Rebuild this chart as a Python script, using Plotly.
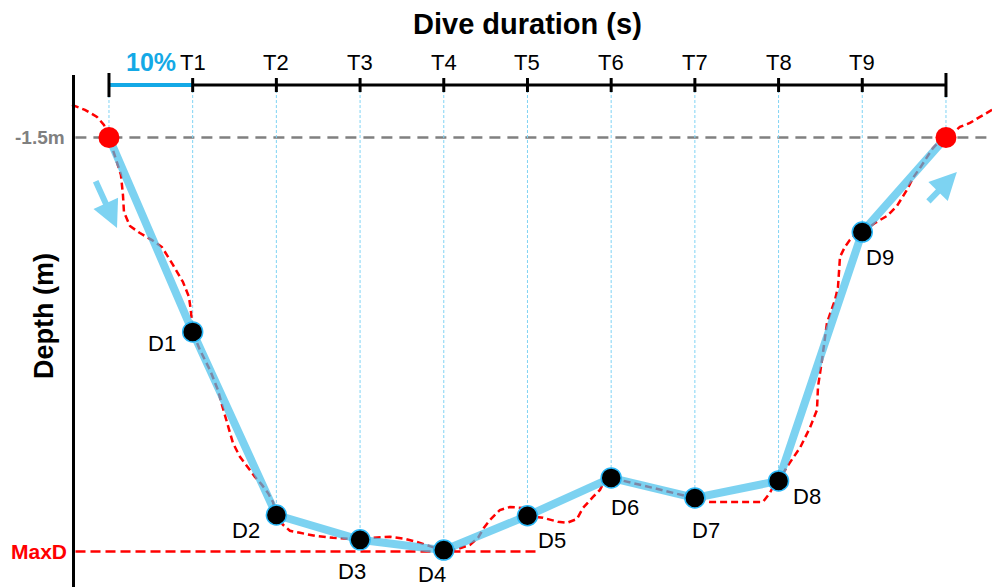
import plotly.graph_objects as go

# ---------------- data ----------------
tick_labels = ["T1", "T2", "T3", "T4", "T5", "T6", "T7", "T8", "T9"]
tick_pos = [10, 20, 30, 40, 50, 60, 70, 80, 90]          # % of dive duration
dive_bounds = [0, 100]                                   # start / end of dive (% duration)
surface_depth = -1.5                                     # m

point_labels = ["D1", "D2", "D3", "D4", "D5", "D6", "D7", "D8", "D9"]
point_x = [10, 20, 30, 40, 50, 60, 70, 80, 90]
point_depth = [-9.25, -16.55, -17.54, -17.95, -16.58, -15.07, -15.87, -15.19, -5.27]

raw_x = [-4.42, -2.87, -1.43, -0.60, 0.0, 0.48, 0.96, 1.43, 1.67, 1.79, 2.51, 3.70, 5.14,
         6.33, 7.65, 8.84, 9.56, 9.80, 10.0, 10.87, 12.07, 13.02, 13.50, 14.22, 14.81,
         15.65, 16.49, 17.44, 18.28, 19.00, 19.59, 20.0, 20.79, 21.62, 22.82, 24.61,
         26.76, 28.79, 31.18, 33.57, 35.36, 37.16, 38.95, 40.0, 41.70, 43.13, 44.09,
         44.80, 45.52, 46.71, 47.91, 49.46, 50.0, 51.85, 53.64, 54.72, 55.91, 56.63,
         57.83, 58.66, 59.26, 60.0, 65.0, 70.0, 71.80, 75.39, 78.14, 78.97, 79.57, 80.0,
         81.00, 82.56, 83.75, 84.59, 84.71, 85.19, 85.54, 85.78, 86.74, 87.10, 87.34,
         87.93, 88.53, 89.37, 90.0, 91.52, 92.95, 94.15, 95.34, 96.06, 96.89, 97.73,
         98.45, 99.28, 100.0, 100.84, 101.67, 102.87, 104.06, 105.50]
raw_depth = [-0.20, -0.40, -0.68, -1.00, -1.50, -2.00, -2.52, -2.99, -3.79, -4.47, -5.03,
             -5.31, -5.59, -5.87, -6.58, -7.26, -7.86, -8.46, -9.25, -9.97, -10.77, -11.57,
             -12.16, -12.96, -13.68, -14.23, -14.63, -15.03, -15.35, -15.67, -16.03, -16.55,
             -16.94, -17.18, -17.26, -17.38, -17.46, -17.50, -17.46, -17.42, -17.50, -17.66,
             -17.86, -18.00, -17.90, -17.74, -17.46, -17.06, -16.75, -16.35, -16.23, -16.27,
             -16.58, -16.66, -16.82, -16.86, -16.71, -16.27, -15.83, -15.55, -15.15, -15.07,
             -15.47, -15.87, -16.03, -16.03, -16.03, -15.67, -15.27, -15.19, -14.63, -13.87,
             -13.07, -12.36, -11.44, -10.37, -9.57, -8.89, -7.98, -7.46, -6.26, -5.86, -5.58,
             -5.31, -5.27, -4.91, -4.63, -4.23, -3.59, -3.11, -2.72, -2.28, -1.92, -1.64,
             -1.50, -1.32, -1.08, -0.92, -0.68, -0.40]

max_depth = min(raw_depth)

# arrows (tail -> head), in data units
arrow_down = dict(tail=(-1.67, -3.19), head=(0.96, -5.11))
arrow_up = dict(tail=(97.73, -4.11), head=(101.3, -2.88))

# ---------------- style ----------------
FONT = "Arial, Liberation Sans, sans-serif"
LINE_BLUE = "rgb(69,192,236)"
ARROW_BLUE = "#7dd3f2"
BRIGHT_BLUE = "#14a9e6"
AXIS_Y = 0.59
label_offsets = [(-31, -12), (-30, -15), (-8, -32), (-12, -24), (25, -25),
                 (14, -30), (11, -33), (28, -16), (18, -25)]

fig = go.Figure()

# raw profile (red dashed)
fig.add_trace(go.Scatter(x=raw_x, y=raw_depth, mode="lines",
                         line=dict(color="#ff0000", width=2.5, dash="7px,4px"),
                         hoverinfo="skip"))

# simplified profile (blue)
line_x = [dive_bounds[0]] + point_x + [dive_bounds[1]]
line_y = [surface_depth] + point_depth + [surface_depth]
fig.add_trace(go.Scatter(x=line_x, y=line_y, mode="lines",
                         line=dict(color=LINE_BLUE, width=8), opacity=0.7,
                         hoverinfo="skip"))

# points
fig.add_trace(go.Scatter(x=point_x, y=point_depth, mode="markers",
                         marker=dict(color="black", size=20,
                                     line=dict(color="#29b6f6", width=1.5))))
fig.add_trace(go.Scatter(x=dive_bounds, y=[surface_depth, surface_depth], mode="markers",
                         marker=dict(color="#ff0000", size=21)))

shapes = []
# dotted verticals from axis to points
for xv, yv in zip(line_x, line_y):
    shapes.append(dict(type="line", xref="x", yref="y", x0=xv, x1=xv, y0=AXIS_Y, y1=yv,
                       line=dict(color="#7fd3f4", width=1, dash="3px,2px"), layer="below"))
# surface line
shapes.append(dict(type="line", xref="paper", yref="y", x0=0.076, x1=1,
                   y0=surface_depth, y1=surface_depth,
                   line=dict(color="#808080", width=2.5, dash="11px,7px"), layer="below"))
# max depth line
shapes.append(dict(type="line", xref="x", yref="y", x0=-4.0, x1=51.5,
                   y0=max_depth, y1=max_depth,
                   line=dict(color="#ff0000", width=2.5, dash="10px,5px"), layer="below"))
# left axis
shapes.append(dict(type="line", xref="paper", yref="paper", x0=0.0741, x1=0.0741,
                   y0=0, y1=1 - 75 / 587, line=dict(color="black", width=3)))
# top axis
shapes.append(dict(type="line", xref="x", yref="y", x0=dive_bounds[0], x1=dive_bounds[1],
                   y0=AXIS_Y, y1=AXIS_Y, line=dict(color="black", width=3)))
shapes.append(dict(type="line", xref="x", yref="y", x0=dive_bounds[0], x1=tick_pos[0],
                   y0=AXIS_Y, y1=AXIS_Y, line=dict(color=BRIGHT_BLUE, width=4)))
for t in tick_pos:
    shapes.append(dict(type="line", xref="x", yref="y", x0=t, x1=t,
                       y0=AXIS_Y - 0.28, y1=AXIS_Y + 0.28, line=dict(color="black", width=3)))
for t in dive_bounds:
    shapes.append(dict(type="line", xref="x", yref="y", x0=t, x1=t,
                       y0=AXIS_Y - 0.48, y1=AXIS_Y + 0.48, line=dict(color="black", width=3)))

annotations = []
annotations.append(dict(text="<b>Dive duration (s)</b>", x=50, y=1 - 24 / 587, xref="x",
                        yref="paper", showarrow=False, font=dict(family=FONT, size=29, color="black"),
                        xanchor="center", yanchor="middle"))
for t, lab in zip(tick_pos, tick_labels):
    annotations.append(dict(text=lab, x=t, y=AXIS_Y, xref="x", yref="y", yshift=23,
                            showarrow=False, font=dict(family=FONT, size=22, color="black"),
                            xanchor="center", yanchor="middle"))
annotations.append(dict(text="<b>10%</b>", x=(dive_bounds[0] + tick_pos[0]) / 2, y=AXIS_Y,
                        xref="x", yref="y", yshift=23, showarrow=False,
                        font=dict(family=FONT, size=25, color=BRIGHT_BLUE),
                        xanchor="center", yanchor="middle"))
annotations.append(dict(text="<b>Depth (m)</b>", x=44 / 992, y=1 - 316 / 587, xref="paper",
                        yref="paper", textangle=-90, showarrow=False,
                        font=dict(family=FONT, size=27, color="black"),
                        xanchor="center", yanchor="middle"))
annotations.append(dict(text="<b>-1.5m</b>", x=67 / 992, y=surface_depth, xref="paper", yref="y",
                        showarrow=False, font=dict(family=FONT, size=19, color="#808080"),
                        xanchor="right", yanchor="middle"))
annotations.append(dict(text="<b>MaxD</b>", x=69 / 992, y=max_depth, xref="paper", yref="y",
                        showarrow=False, font=dict(family=FONT, size=21, color="#ff0000"),
                        xanchor="right", yanchor="middle"))
for lab, xv, yv, (dx, dy) in zip(point_labels, point_x, point_depth, label_offsets):
    annotations.append(dict(text=lab, x=xv, y=yv, xref="x", yref="y", xshift=dx, yshift=dy,
                            showarrow=False, font=dict(family=FONT, size=22, color="black"),
                            xanchor="center", yanchor="middle"))
for arr in (arrow_down, arrow_up):
    annotations.append(dict(text="", x=arr["head"][0], y=arr["head"][1],
                            ax=arr["tail"][0], ay=arr["tail"][1], xref="x", yref="y",
                            axref="x", ayref="y", showarrow=True, arrowhead=2,
                            arrowsize=0.9, arrowwidth=6, arrowcolor=ARROW_BLUE))

fig.update_layout(
    width=992, height=587,
    margin=dict(l=0, r=0, t=0, b=0),
    paper_bgcolor="white", plot_bgcolor="white",
    showlegend=False,
    xaxis=dict(range=[-13.02, 105.5], visible=False, fixedrange=True),
    yaxis=dict(range=[-19.42, 3.98], visible=False, fixedrange=True),
    shapes=shapes, annotations=annotations,
)

fig.write_html(
    "out.html",
    config={"displayModeBar": False},
    post_script="document.body.style.margin='0';document.body.style.overflow='hidden';",
)
